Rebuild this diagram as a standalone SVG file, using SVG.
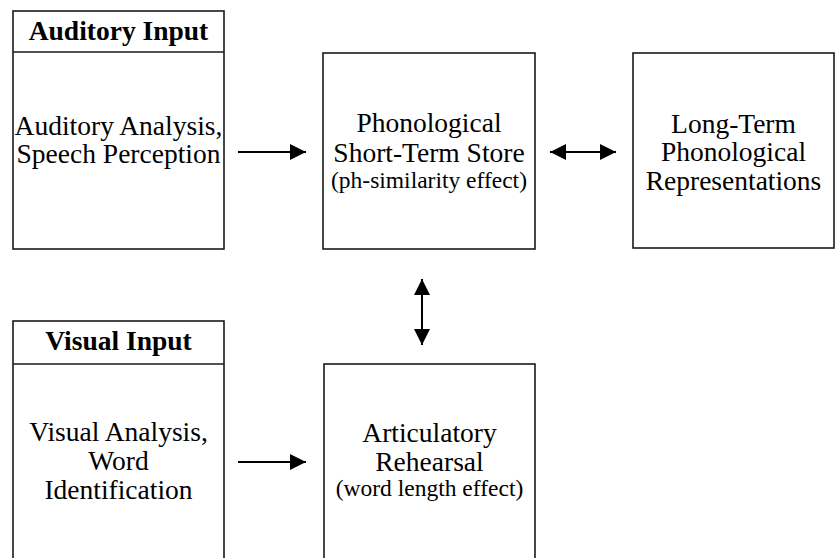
<svg xmlns="http://www.w3.org/2000/svg" width="835" height="558" viewBox="0 0 835 558">
  <defs>
    <marker id="ah" viewBox="0 0 16 16" refX="16" refY="8" markerWidth="16" markerHeight="16" markerUnits="userSpaceOnUse" orient="auto-start-reverse">
      <path d="M0,0 L16,8 L0,16 Z" fill="#000"/>
    </marker>
  </defs>
  <style>
    .box { fill: #fff; stroke: #1a1a1a; stroke-width: 1.6; }
    text { font-family: 'Liberation Serif', 'DejaVu Serif', serif; font-size: 27.5px; fill: #000; text-anchor: middle; }
    .s { font-size: 23.5px; }
    .b { font-weight: bold; }
    .conn { stroke: #000; stroke-width: 2; fill: none; }
  </style>
  <rect width="835" height="558" fill="#fff"/>

  <g id="auditory">
    <rect class="box" x="13" y="11" width="211" height="238"/>
    <line class="box" x1="13" y1="52" x2="224" y2="52"/>
    <text class="b" x="118.5" y="40">Auditory Input</text>
    <text x="118.5" y="135">Auditory Analysis,</text>
    <text x="118.5" y="163">Speech Perception</text>
  </g>

  <g id="phonological-store">
    <rect class="box" x="323" y="53" width="212" height="196"/>
    <text x="429" y="132">Phonological</text>
    <text x="429" y="162">Short-Term Store</text>
    <text class="s" x="429" y="188">(ph-similarity effect)</text>
  </g>

  <g id="long-term">
    <rect class="box" x="633" y="53" width="201" height="195"/>
    <text x="733.5" y="133">Long-Term</text>
    <text x="733.5" y="161">Phonological</text>
    <text x="733.5" y="190">Representations</text>
  </g>

  <g id="visual">
    <rect class="box" x="13" y="321" width="211" height="250"/>
    <line class="box" x1="13" y1="364" x2="224" y2="364"/>
    <text class="b" x="118.5" y="350">Visual Input</text>
    <text x="118.5" y="441">Visual Analysis,</text>
    <text x="118.5" y="470">Word</text>
    <text x="118.5" y="499">Identification</text>
  </g>

  <g id="articulatory">
    <rect class="box" x="324" y="364" width="211" height="210"/>
    <text x="429.5" y="442">Articulatory</text>
    <text x="429.5" y="471">Rehearsal</text>
    <text class="s" x="429.5" y="496">(word length effect)</text>
  </g>

  <g id="connectors">
    <line class="conn" x1="238" y1="152" x2="306" y2="152" marker-end="url(#ah)"/>
    <line class="conn" x1="550" y1="152" x2="616" y2="152" marker-start="url(#ah)" marker-end="url(#ah)"/>
    <line class="conn" x1="422" y1="279" x2="422" y2="345" marker-start="url(#ah)" marker-end="url(#ah)"/>
    <line class="conn" x1="238" y1="462" x2="306" y2="462" marker-end="url(#ah)"/>
  </g>
</svg>
